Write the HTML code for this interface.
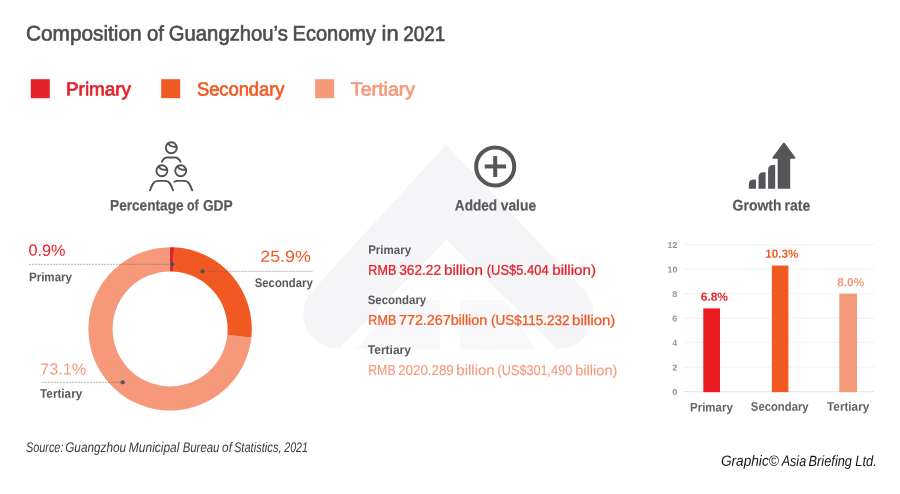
<!DOCTYPE html>
<html lang="en"><head><meta charset="utf-8"><title>Composition of Guangzhou's Economy in 2021</title>
<style>
html,body{margin:0;padding:0;background:#fff;}
body{width:900px;height:494px;overflow:hidden;}
svg{display:block;}
text{font-family:"Liberation Sans",sans-serif;text-rendering:geometricPrecision;}
</style></head><body>
<svg width="900" height="494" viewBox="0 0 900 494">
<rect width="900" height="494" fill="#fff"/>

<g fill="#f5f5f7">
<path d="M446.2 144.6L312.4 290.4A34.6 34.6 0 0 0 337.9 348.4L559 348.4A34.6 34.6 0 0 0 584.1 290.0Z"/>
</g>
<path fill="#fff" d="M446.6 240L338.9 348.4L556.5 348.4Z"/>
<path fill="#f8f8fa" d="M440 300.3L396 300.3L357 348.4L440 348.4Z"/>
<path fill="#f8f8fa" d="M459.8 300.3L504.5 300.3L535.2 348.4L459.8 348.4Z"/>
<rect x="30.8" y="79.2" width="19" height="19" fill="#e32229"/>
<rect x="161.2" y="79.2" width="19" height="19" fill="#f05a22"/>
<rect x="315.2" y="79.2" width="19" height="19" fill="#f5997a"/>
<path fill="#f5997a" d="M251.35 337.44A81.7 81.7 0 1 1 169.96 247.20L170.00 271.40A57.5 57.5 0 1 0 227.29 334.91Z"/>
<path fill="#f05a22" d="M174.16 247.30A81.7 81.7 0 0 1 251.35 337.44L227.29 334.91A57.5 57.5 0 0 0 172.96 271.47Z"/>
<path fill="#e32229" d="M169.96 247.20A81.7 81.7 0 0 1 174.16 247.30L172.96 271.47A57.5 57.5 0 0 0 170.00 271.40Z"/>
<line x1="29.1" y1="264.3" x2="172.3" y2="264.3" stroke="#55565a" stroke-opacity="0.5" stroke-width="0.9" stroke-dasharray="2 1"/>
<circle cx="172.3" cy="264.3" r="2.1" fill="#4f545c"/>
<line x1="202.5" y1="271.4" x2="312.9" y2="271.4" stroke="#55565a" stroke-opacity="0.5" stroke-width="0.9" stroke-dasharray="2 1"/>
<circle cx="202.5" cy="271.4" r="2.1" fill="#4f545c"/>
<line x1="41.9" y1="382.3" x2="122.7" y2="382.3" stroke="#55565a" stroke-opacity="0.5" stroke-width="0.9" stroke-dasharray="2 1"/>
<circle cx="122.7" cy="382.3" r="2.1" fill="#4f545c"/>
<g fill="none" stroke="#4f5053" stroke-width="1.9" stroke-linecap="round">
<circle cx="171.3" cy="147.75" r="5.5"/>
<path d="M168.20 143.25Q169.70 147.35 176.60 146.65"/>
<circle cx="161.9" cy="170.8" r="5.5"/>
<path d="M158.80 166.30Q160.30 170.40 167.20 169.70"/>
<circle cx="180.7" cy="170.8" r="5.5"/>
<path d="M177.60 166.30Q179.10 170.40 186.00 169.70"/>
<path d="M161.9 161.7C163.2 159 164.6 157.5 167.2 157.5L175.2 157.5C177.8 157.5 179.2 159 180.4 161.7"/>
<path d="M150 190.3C152 185 153.6 180.9 157.6 180.9L165.6 180.9C169.6 180.9 171.2 185 173 190.3"/>
<path d="M174.4 181.8C175.4 181.2 176.4 180.9 177.6 180.9L184.6 180.9C188.6 180.9 190.2 185 192.2 190.3"/>
</g>
<circle cx="495.2" cy="166.45" r="19.05" fill="none" stroke="#55565a" stroke-width="4"/>
<rect x="484.7" y="164.45" width="21.3" height="4" fill="#55565a"/>
<rect x="493.2" y="156.1" width="4" height="20.9" fill="#55565a"/>
<g fill="#55565a">
<path d="M748.8 188.7L748.8 184.4Q748.8 179.4 753.8 179.4L756 179.4L756 188.7Z"/>
<path d="M758.5 188.7L758.5 177.3Q758.5 172.3 763.5 172.3L765.6 172.3L765.6 188.7Z"/>
<path d="M768.1 188.7L768.1 170Q768.1 165 773.1 165L775.2 165L775.2 188.7Z"/>
<path d="M777.7 188.7L777.7 158.8L773.2 158.8Q771.6 158.6 772.6 157.2L782.9 143.2Q783.9 142 784.9 143.2L795.2 157.2Q796.2 158.6 794.6 158.8L790.2 158.8L790.2 188.7Z"/>
</g>
<line x1="683.6" y1="391.70" x2="874" y2="391.70" stroke="#dfe0e1" stroke-width="1"/>
<line x1="683.6" y1="367.20" x2="874" y2="367.20" stroke="#f0f0f1" stroke-width="1"/>
<line x1="683.6" y1="342.70" x2="874" y2="342.70" stroke="#f0f0f1" stroke-width="1"/>
<line x1="683.6" y1="318.20" x2="874" y2="318.20" stroke="#f0f0f1" stroke-width="1"/>
<line x1="683.6" y1="293.70" x2="874" y2="293.70" stroke="#f0f0f1" stroke-width="1"/>
<line x1="683.6" y1="269.20" x2="874" y2="269.20" stroke="#f0f0f1" stroke-width="1"/>
<line x1="683.6" y1="244.70" x2="874" y2="244.70" stroke="#f0f0f1" stroke-width="1"/>
<rect x="703.3" y="308.40" width="16.70" height="83.80" fill="#ed1c24"/>
<rect x="771.9" y="265.52" width="16.50" height="126.68" fill="#f05a22"/>
<rect x="839.3" y="293.70" width="17.70" height="98.50" fill="#f5997a"/>
<text y="40.52" transform="rotate(0.03 235.7 40.5)" font-size="21.15" fill="#4d4d4f" stroke="#4d4d4f" stroke-width="0.65" stroke-linejoin="round"><tspan x="25.97" textLength="115.65" lengthAdjust="spacingAndGlyphs">Composition</tspan> <tspan x="146.97" textLength="16.97" lengthAdjust="spacingAndGlyphs">of</tspan> <tspan x="168.81" textLength="119.09" lengthAdjust="spacingAndGlyphs">Guangzhou’s</tspan> <tspan x="292.59" textLength="83.43" lengthAdjust="spacingAndGlyphs">Economy</tspan> <tspan x="381.56" textLength="17.03" lengthAdjust="spacingAndGlyphs">in</tspan> <tspan x="403.28" textLength="42.02" lengthAdjust="spacingAndGlyphs">2021</tspan></text>
<text y="95.50" transform="rotate(0.06 99.3 95.5)" font-size="19.04" fill="#e32229" stroke="#e32229" stroke-width="0.7" stroke-linejoin="round"><tspan x="65.99" textLength="65.10" lengthAdjust="spacingAndGlyphs">Primary</tspan></text>
<text y="95.50" transform="rotate(0.06 241.1 95.5)" font-size="19.04" fill="#f05a22" stroke="#f05a22" stroke-width="0.7" stroke-linejoin="round"><tspan x="196.91" textLength="87.58" lengthAdjust="spacingAndGlyphs">Secondary</tspan></text>
<text y="95.50" transform="rotate(0.06 383.2 95.5)" font-size="19.04" fill="#f5997a" stroke="#f5997a" stroke-width="0.7" stroke-linejoin="round"><tspan x="350.82" textLength="64.37" lengthAdjust="spacingAndGlyphs">Tertiary</tspan></text>
<text y="210.60" transform="rotate(0.06 171.6 210.6)" font-size="15.26" font-weight="700" fill="#58595b" stroke="#58595b" stroke-width="0.2" stroke-linejoin="round"><tspan x="110.06" textLength="73.54" lengthAdjust="spacingAndGlyphs">Percentage</tspan> <tspan x="186.98" textLength="11.72" lengthAdjust="spacingAndGlyphs">of</tspan> <tspan x="202.91" textLength="29.69" lengthAdjust="spacingAndGlyphs">GDP</tspan></text>
<text y="210.60" transform="rotate(0.06 495.4 210.6)" font-size="15.26" font-weight="700" fill="#58595b" stroke="#58595b" stroke-width="0.2" stroke-linejoin="round"><tspan x="454.83" textLength="42.29" lengthAdjust="spacingAndGlyphs">Added</tspan> <tspan x="500.72" textLength="35.39" lengthAdjust="spacingAndGlyphs">value</tspan></text>
<text y="210.60" transform="rotate(0.06 771.5 210.6)" font-size="15.26" font-weight="700" fill="#58595b" stroke="#58595b" stroke-width="0.2" stroke-linejoin="round"><tspan x="732.60" textLength="48.90" lengthAdjust="spacingAndGlyphs">Growth</tspan> <tspan x="784.55" textLength="25.66" lengthAdjust="spacingAndGlyphs">rate</tspan></text>
<text y="255.65" transform="rotate(0.06 47.0 255.7)" font-size="15.99" fill="#e32229"><tspan x="28.47" textLength="37.01" lengthAdjust="spacingAndGlyphs">0.9%</tspan></text>
<text y="281.20" transform="rotate(0.06 50.9 281.2)" font-size="12.50" font-weight="700" fill="#58595b"><tspan x="28.93" textLength="43.14" lengthAdjust="spacingAndGlyphs">Primary</tspan></text>
<text y="261.70" transform="rotate(0.06 285.7 261.7)" font-size="15.99" fill="#f05a22"><tspan x="260.30" textLength="50.53" lengthAdjust="spacingAndGlyphs">25.9%</tspan></text>
<text y="287.00" transform="rotate(0.06 283.9 287.0)" font-size="12.50" font-weight="700" fill="#58595b"><tspan x="254.67" textLength="58.19" lengthAdjust="spacingAndGlyphs">Secondary</tspan></text>
<text y="374.50" transform="rotate(0.06 63.3 374.5)" font-size="15.99" fill="#f5997a"><tspan x="40.06" textLength="46.32" lengthAdjust="spacingAndGlyphs">73.1%</tspan></text>
<text y="397.80" transform="rotate(0.06 61.2 397.8)" font-size="12.50" font-weight="700" fill="#58595b"><tspan x="40.07" textLength="42.19" lengthAdjust="spacingAndGlyphs">Tertiary</tspan></text>
<text y="253.90" transform="rotate(0.06 389.9 253.9)" font-size="12.21" font-weight="700" fill="#58595b"><tspan x="368.13" textLength="42.93" lengthAdjust="spacingAndGlyphs">Primary</tspan></text>
<text y="274.76" transform="rotate(0.06 482.2 274.8)" font-size="14.13" fill="#e32229" stroke="#e32229" stroke-width="0.28" stroke-linejoin="round"><tspan x="368.37" textLength="27.90" lengthAdjust="spacingAndGlyphs">RMB</tspan> <tspan x="399.28" textLength="41.71" lengthAdjust="spacingAndGlyphs">362.22</tspan> <tspan x="443.91" textLength="39.08" lengthAdjust="spacingAndGlyphs">billion</tspan> <tspan x="486.80" textLength="61.89" lengthAdjust="spacingAndGlyphs">(US$5.404</tspan> <tspan x="552.22" textLength="43.72" lengthAdjust="spacingAndGlyphs">billion)</tspan></text>
<text y="304.10" transform="rotate(0.06 397.1 304.1)" font-size="12.21" font-weight="700" fill="#58595b"><tspan x="367.67" textLength="58.59" lengthAdjust="spacingAndGlyphs">Secondary</tspan></text>
<text y="324.86" transform="rotate(0.06 491.9 324.9)" font-size="14.13" fill="#f05a22" stroke="#f05a22" stroke-width="0.28" stroke-linejoin="round"><tspan x="368.37" textLength="27.90" lengthAdjust="spacingAndGlyphs">RMB</tspan> <tspan x="399.07" textLength="88.06" lengthAdjust="spacingAndGlyphs">772.267billion</tspan> <tspan x="490.97" textLength="78.60" lengthAdjust="spacingAndGlyphs">(US$115.232</tspan> <tspan x="572.13" textLength="43.19" lengthAdjust="spacingAndGlyphs">billion)</tspan></text>
<text y="353.90" transform="rotate(0.06 389.4 353.9)" font-size="12.21" font-weight="700" fill="#58595b"><tspan x="367.87" textLength="43.10" lengthAdjust="spacingAndGlyphs">Tertiary</tspan></text>
<text y="375.05" transform="rotate(0.06 492.9 375.1)" font-size="14.39" fill="#f5997a" stroke="#f5997a" stroke-width="0.1" stroke-linejoin="round"><tspan x="368.22" textLength="27.39" lengthAdjust="spacingAndGlyphs">RMB</tspan> <tspan x="398.16" textLength="55.63" lengthAdjust="spacingAndGlyphs">2020.289</tspan> <tspan x="456.27" textLength="38.48" lengthAdjust="spacingAndGlyphs">billion</tspan> <tspan x="497.55" textLength="74.71" lengthAdjust="spacingAndGlyphs">(US$301,490</tspan> <tspan x="575.19" textLength="42.28" lengthAdjust="spacingAndGlyphs">billion)</tspan></text>
<text y="300.80" transform="rotate(0.06 714.5 300.8)" font-size="11.77" font-weight="700" fill="#e32229"><tspan x="700.76" textLength="27.25" lengthAdjust="spacingAndGlyphs">6.8%</tspan></text>
<text y="257.70" transform="rotate(0.06 782.1 257.7)" font-size="11.77" font-weight="700" fill="#f05a22"><tspan x="765.37" textLength="33.04" lengthAdjust="spacingAndGlyphs">10.3%</tspan></text>
<text y="286.20" transform="rotate(0.06 850.8 286.2)" font-size="11.77" font-weight="700" fill="#f5997a"><tspan x="837.33" textLength="26.78" lengthAdjust="spacingAndGlyphs">8.0%</tspan></text>
<text y="411.60" transform="rotate(0.06 711.8 411.6)" font-size="12.50" font-weight="700" fill="#636466"><tspan x="690.03" textLength="42.83" lengthAdjust="spacingAndGlyphs">Primary</tspan></text>
<text y="410.80" transform="rotate(0.06 779.9 410.8)" font-size="12.50" font-weight="700" fill="#636466"><tspan x="750.87" textLength="57.79" lengthAdjust="spacingAndGlyphs">Secondary</tspan></text>
<text y="410.80" transform="rotate(0.06 848.2 410.8)" font-size="12.50" font-weight="700" fill="#636466"><tspan x="827.07" textLength="42.19" lengthAdjust="spacingAndGlyphs">Tertiary</tspan></text>
<text y="451.80" transform="rotate(0.03 166.7 451.8)" font-size="13.95" font-style="italic" fill="#3a3a3c"><tspan x="25.99" textLength="37.44" lengthAdjust="spacingAndGlyphs">Source:</tspan> <tspan x="65.22" textLength="60.82" lengthAdjust="spacingAndGlyphs">Guangzhou</tspan> <tspan x="128.83" textLength="50.60" lengthAdjust="spacingAndGlyphs">Municipal</tspan> <tspan x="182.65" textLength="36.78" lengthAdjust="spacingAndGlyphs">Bureau</tspan> <tspan x="222.11" textLength="9.86" lengthAdjust="spacingAndGlyphs">of</tspan> <tspan x="233.88" textLength="47.71" lengthAdjust="spacingAndGlyphs">Statistics,</tspan> <tspan x="284.26" textLength="23.64" lengthAdjust="spacingAndGlyphs">2021</tspan></text>
<text y="465.90" transform="rotate(0.06 798.4 465.9)" font-size="14.83" font-style="italic" fill="#141414"><tspan x="720.93" textLength="57.87" lengthAdjust="spacingAndGlyphs">Graphic©</tspan> <tspan x="781.72" textLength="24.41" lengthAdjust="spacingAndGlyphs">Asia</tspan> <tspan x="808.51" textLength="43.51" lengthAdjust="spacingAndGlyphs">Briefing</tspan> <tspan x="855.30" textLength="21.47" lengthAdjust="spacingAndGlyphs">Ltd.</tspan></text>
<text y="394.90" transform="rotate(0.06 674.8 394.9)" font-size="8.58" font-weight="700" fill="#909295"><tspan x="672.23" textLength="5.15" lengthAdjust="spacingAndGlyphs">0</tspan></text>
<text y="370.40" transform="rotate(0.06 674.8 370.4)" font-size="8.58" font-weight="700" fill="#909295"><tspan x="672.28" textLength="5.08" lengthAdjust="spacingAndGlyphs">2</tspan></text>
<text y="345.90" transform="rotate(0.06 674.8 345.9)" font-size="8.58" font-weight="700" fill="#909295"><tspan x="672.48" textLength="4.57" lengthAdjust="spacingAndGlyphs">4</tspan></text>
<text y="321.40" transform="rotate(0.06 674.8 321.4)" font-size="8.58" font-weight="700" fill="#909295"><tspan x="672.27" textLength="5.06" lengthAdjust="spacingAndGlyphs">6</tspan></text>
<text y="296.90" transform="rotate(0.06 674.8 296.9)" font-size="8.58" font-weight="700" fill="#909295"><tspan x="672.32" textLength="4.96" lengthAdjust="spacingAndGlyphs">8</tspan></text>
<text y="272.40" transform="rotate(0.06 672.5 272.4)" font-size="8.58" font-weight="700" fill="#909295"><tspan x="667.54" textLength="9.82" lengthAdjust="spacingAndGlyphs">10</tspan></text>
<text y="247.90" transform="rotate(0.06 672.5 247.9)" font-size="8.58" font-weight="700" fill="#909295"><tspan x="667.54" textLength="9.81" lengthAdjust="spacingAndGlyphs">12</tspan></text>
</svg></body></html>
